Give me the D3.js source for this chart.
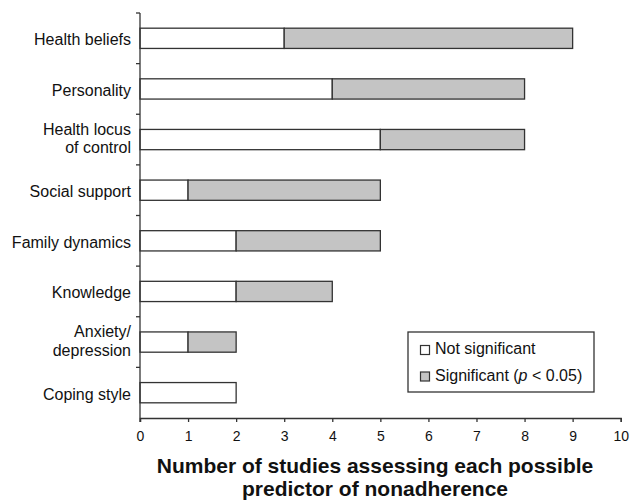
<!DOCTYPE html>
<html>
<head>
<meta charset="utf-8">
<script src="https://cdn.jsdelivr.net/npm/d3@7"></script>
<style>
  body { margin: 0; background: #fff; }
  svg { font-family: "Liberation Sans", Arial, sans-serif; }
</style>
</head>
<body>
<div id="chart"></div>
<script>
// predictors, top to bottom
const categories = [
    ["Health beliefs"],
    ["Personality"],
    ["Health locus", "of control"],
    ["Social support"],
    ["Family dynamics"],
    ["Knowledge"],
    ["Anxiety/", "depression"],
    ["Coping style"]
];
const notSignificant = [3, 4, 5, 1, 2, 2, 1, 2];
const significant = [6, 4, 3, 4, 3, 2, 1, 0];
const xTicks = [0, 1, 2, 3, 4, 5, 6, 7, 8, 9, 10];

const width = 631, height = 504;
const margin = { top: 13, right: 10, bottom: 86, left: 140 };

const svg = d3.select("#chart").append("svg")
    .attr("width", width)
    .attr("height", height);

const x = d3.scaleLinear()
    .domain([0, 10])
    .range([margin.left, 620.7]);

const y = d3.scaleBand()
    .domain(d3.range(categories.length))
    .range([margin.top, height - margin.bottom])
    .paddingInner(0.6)
    .paddingOuter(0.3);

const rows = categories.map((c, i) => ({
    i: i,
    ns: notSignificant[i],
    sig: significant[i]
}));

// not significant part
svg.append("g").selectAll("rect")
    .data(rows.filter(d => d.ns > 0))
    .join("rect")
    .attr("x", d => x(0))
    .attr("y", d => y(d.i))
    .attr("width", d => x(d.ns) - x(0))
    .attr("height", y.bandwidth())
    .attr("fill", "#fff")
    .attr("stroke", "#333")
    .attr("stroke-width", 1.3);

// significant part
svg.append("g").selectAll("rect")
    .data(rows.filter(d => d.sig > 0))
    .join("rect")
    .attr("x", d => x(d.ns))
    .attr("y", d => y(d.i))
    .attr("width", d => x(d.ns + d.sig) - x(d.ns))
    .attr("height", y.bandwidth())
    .attr("fill", "#c4c4c4")
    .attr("stroke", "#333")
    .attr("stroke-width", 1.3);

// y axis line with ticks between categories
const yAxisG = svg.append("g");
yAxisG.append("line")
    .attr("x1", x(0)).attr("x2", x(0))
    .attr("y1", margin.top).attr("y2", height - margin.bottom + 4)
    .attr("stroke", "#333").attr("stroke-width", 1.3);
const step = y.step();
yAxisG.selectAll(".sep")
    .data(d3.range(categories.length))
    .join("line")
    .attr("x1", x(0) - 4).attr("x2", x(0))
    .attr("y1", i => margin.top + i * step)
    .attr("y2", i => margin.top + i * step)
    .attr("stroke", "#333").attr("stroke-width", 1.3);

// category labels
const labels = svg.append("g").selectAll("text")
    .data(categories)
    .join("text")
    .attr("text-anchor", "end")
    .attr("font-size", 16)
    .attr("fill", "#111")
    .attr("transform", (d, i) => `translate(${x(0) - 9},${y(i) + y.bandwidth() / 2})`);
labels.each(function(lines) {
    const t = d3.select(this);
    const off = lines.length === 1 ? 7 : -5;
    lines.forEach((l, k) => {
        t.append("tspan").attr("x", 0).attr("y", off + k * 18.5).text(l);
    });
});

// x axis
const xAxis = svg.append("g")
    .attr("transform", `translate(0,${height - margin.bottom})`)
    .call(d3.axisBottom(x).tickValues(xTicks).tickFormat(d3.format("d")).tickSizeOuter(0).tickSize(4).tickPadding(9));
xAxis.select(".domain").attr("stroke", "#333").attr("stroke-width", 1.3);
xAxis.selectAll(".tick line").attr("stroke", "#333").attr("stroke-width", 1.3);
xAxis.selectAll(".tick text")
    .attr("font-size", 14)
    .attr("font-family", "Liberation Sans, Arial, sans-serif")
    .attr("fill", "#111");

// axis title
const title = svg.append("text")
    .attr("text-anchor", "middle")
    .attr("font-size", 21)
    .attr("font-weight", "bold")
    .attr("fill", "#111");
title.append("tspan").attr("x", 375).attr("y", 473).text("Number of studies assessing each possible");
title.append("tspan").attr("x", 375).attr("y", 496).text("predictor of nonadherence");

// legend
const legend = svg.append("g").attr("transform", "translate(408,332)");
legend.append("rect")
    .attr("width", 186).attr("height", 60)
    .attr("fill", "#fff").attr("stroke", "#333").attr("stroke-width", 1.3);
const legendItems = [
    { fill: "#fff", label: ["Not significant"] },
    { fill: "#c4c4c4", label: ["Significant (", "p", " < 0.05)"] }
];
legendItems.forEach((item, k) => {
    const g = legend.append("g").attr("transform", `translate(12.5,${13.5 + k * 26.5})`);
    g.append("rect").attr("width", 9).attr("height", 9)
        .attr("fill", item.fill).attr("stroke", "#333").attr("stroke-width", 1.2);
    const t = g.append("text").attr("x", 14.5).attr("y", 8.5).attr("font-size", 16).attr("fill", "#111");
    item.label.forEach(s => {
        t.append("tspan").attr("font-style", s === "p" ? "italic" : null).text(s);
    });
});
</script>
</body>
</html>
